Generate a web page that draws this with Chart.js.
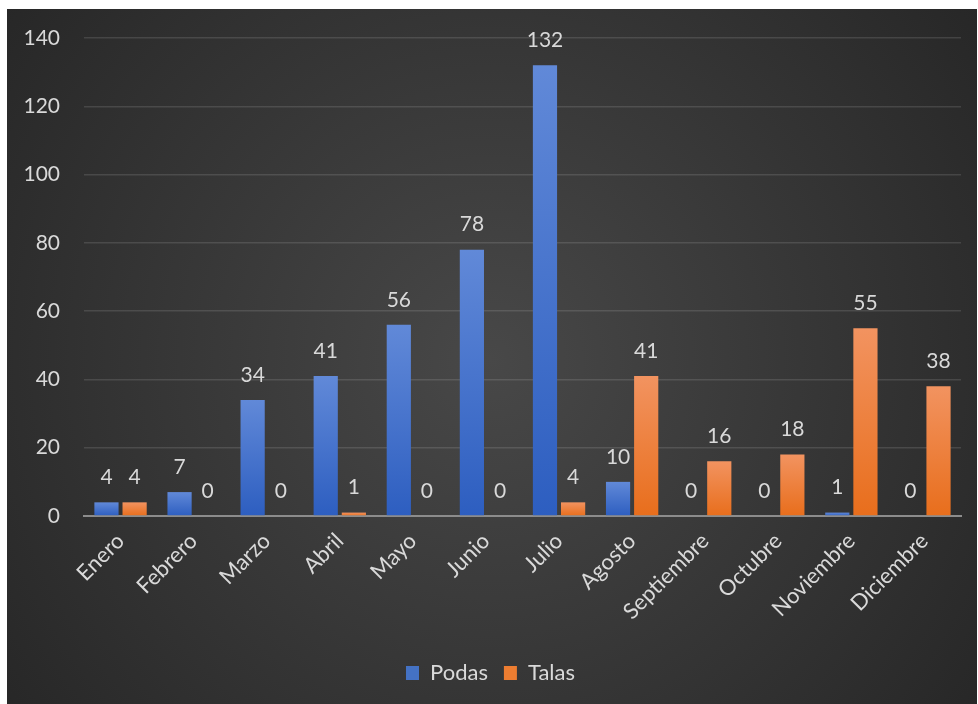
<!DOCTYPE html>
<html>
<head>
<meta charset="utf-8">
<script src="https://cdn.jsdelivr.net/npm/chart.js@4/dist/chart.umd.min.js"></script>
<style>
html,body{margin:0;padding:0;background:#fff;}
#wrap{width:978px;height:704px;position:relative;}
</style>
</head>
<body>
<div id="wrap"><canvas id="c" width="978" height="704"></canvas></div>
<script>
const categories = ['Enero','Febrero','Marzo','Abril','Mayo','Junio','Julio','Agosto','Septiembre','Octubre','Noviembre','Diciembre'];
const podas = [4,7,34,41,56,78,132,10,0,0,1,0];
const talas = [4,0,0,1,0,0,4,41,16,18,55,38];
const yTicks = [0,20,40,60,80,100,120,140];

const FONT = 'Lato, "Open Sans", sans-serif';
const TXT = '#d9d9d9';

function barGradient(top, bottom){
  return function(ctx){
    const chart = ctx.chart;
    if(!chart.chartArea || ctx.type !== 'data') return bottom;
    const y = chart.scales.y;
    const y0 = y.getPixelForValue(0);
    let y1 = y.getPixelForValue(ctx.raw);
    if (Math.abs(y0 - y1) < 1) y1 = y0 - 1;
    const g = chart.ctx.createLinearGradient(0, y1, 0, y0);
    g.addColorStop(0, top);
    g.addColorStop(1, bottom);
    return g;
  };
}

const bgPlugin = {
  id:'bg',
  beforeDraw(chart){
    const c = chart.ctx;
    c.save();
    c.fillStyle = '#ffffff';
    c.fillRect(0,0,chart.width,chart.height);
    const x0=7, y0=9, x1=977, y1=704;
    const g = c.createRadialGradient(490,360,0,490,360,620);
    g.addColorStop(0,'#484848');
    g.addColorStop(1,'#262626');
    c.fillStyle = g;
    c.fillRect(x0,y0,x1-x0,y1-y0);
    c.restore();
  }
};

const labelPlugin = {
  id:'vals',
  afterDatasetsDraw(chart){
    const c = chart.ctx;
    c.save();
    c.font = '21px ' + FONT;
    c.fillStyle = TXT;
    c.textAlign = 'center';
    c.textBaseline = 'middle';
    chart.data.datasets.forEach((ds, i) => {
      const meta = chart.getDatasetMeta(i);
      meta.data.forEach((el, j) => {
        c.fillText(String(ds.data[j]), el.x, el.y - 25);
      });
    });
    c.restore();
  }
};

new Chart(document.getElementById('c'), {
  type:'bar',
  data:{
    labels: categories,
    datasets:[
      {label:'Podas', data: podas, backgroundColor: barGradient('#6189d8','#2d5ec0'), borderWidth:0},
      {label:'Talas', data: talas, backgroundColor: barGradient('#f29360','#e86e1c'), borderWidth:0}
    ]
  },
  options:{
    responsive:false,
    animation:false,
    devicePixelRatio:1,
    layout:{padding:{left:20,right:17,top:38,bottom:10}},
    datasets:{bar:{categoryPercentage:0.77,barPercentage:0.86}},
    plugins:{
      legend:{
        position:'bottom',
        labels:{color:TXT,font:{family:FONT,size:22},boxWidth:13,boxHeight:14,padding:16,
          generateLabels(chart){
            return chart.data.datasets.map((d,i)=>({text:d.label,fillStyle:i===0?'#4472c4':'#ed7d31',strokeStyle:'transparent',lineWidth:0,fontColor:TXT,datasetIndex:i}));
          }}
      },
      tooltip:{enabled:false}
    },
    scales:{
      x:{
        grid:{display:false},
        border:{display:true,color:'#8c8c8c',width:2},
        ticks:{color:TXT,font:{family:FONT,size:22},maxRotation:45,minRotation:45,autoSkip:false,padding:4},
        afterFit(s){ s.height = 130; }
      },
      y:{
        min:0,max:140,
        afterBuildTicks(s){ s.ticks = yTicks.map(v=>({value:v})); },
        grid:{color:'rgba(255,255,255,0.12)',lineWidth:1.5,drawTicks:false},
        border:{display:false},
        ticks:{color:TXT,font:{family:FONT,size:21},padding:24},
        afterFit(s){ s.width = 64; }
      }
    }
  },
  plugins:[bgPlugin,labelPlugin]
});
</script>
</body>
</html>
